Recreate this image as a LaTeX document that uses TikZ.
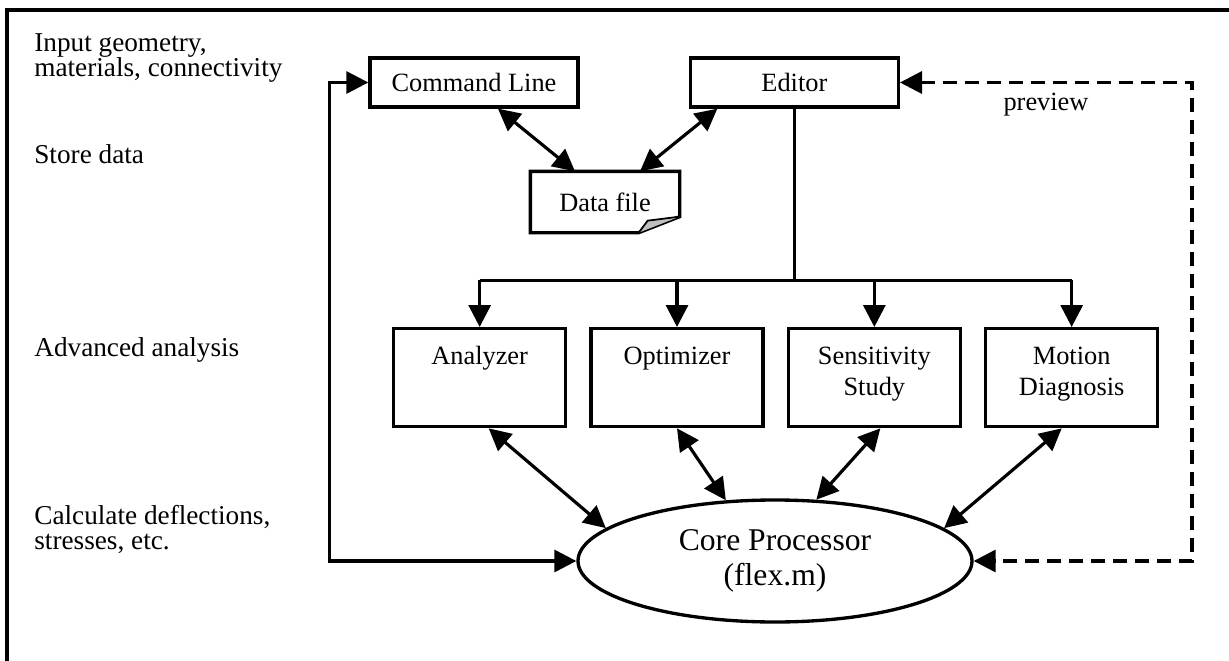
\documentclass[tikz,border=0pt]{standalone}
\usepackage{fontspec}
\setmainfont{Liberation Serif}
\usetikzlibrary{positioning}
\usetikzlibrary{arrows.meta}
\usetikzlibrary{shapes.geometric}

\newcommand{\modtext}[1]{\parbox[c][1.96cm][t]{3.44cm}{\centering\fontsize{15}{17.6}\selectfont\rule{0pt}{0.72cm}#1}}

\begin{document}
\begin{tikzpicture}[
blocknode/.style={rectangle, draw, line width=1.9pt, inner sep=0pt, minimum width=4.16cm, minimum height=0.98cm, font=\fontsize{15}{18}\selectfont},
modnode/.style={rectangle, draw, line width=1.9pt, inner sep=0pt},
corenode/.style={ellipse, draw, line width=1.9pt, inner sep=0pt, minimum width=7.88cm, minimum height=2.44cm, align=center, font=\fontsize{18}{20}\selectfont},
sidelabel/.style={inner sep=0pt, align=left, font=\fontsize{15.5}{14.2}\selectfont},
edge/.style={->, >={Triangle[length=0.44cm, width=0.44cm]}, line width=1.8pt},
dashededge/.style={edge, dash pattern=on 0.28cm off 0.16cm}
]
\useasboundingbox (0,0) rectangle (24.58,-13.22);

%Frame
\draw[line width=2pt] (24.58,-0.2) -- (0.14,-0.2) -- (0.14,-13.22);

%Side labels
\node[sidelabel, anchor=north west] (lbin)    at (0.68,-0.66)  {Input geometry,\\materials, connectivity};
\node[sidelabel, anchor=base west]  (lbstore) at (0.68,-3.26)  {Store data};
\node[sidelabel, anchor=base west]  (lbadv)   at (0.68,-7.12)  {Advanced analysis};
\node[sidelabel, anchor=north west] (lbcalc)  at (0.68,-10.10) {Calculate deflections,\\stresses, etc.};

%Nodes
\node[blocknode]                    (cmd)  at (9.48,-1.65)      {Command Line};
\node[blocknode]                    (ed)   [right=2.18cm of cmd] {Editor};
\node[blocknode, draw=none, minimum width=2.92cm, minimum height=1.16cm] (data) at (12.10,-4.04) {Data file};

\node[modnode, anchor=north west]   (ana)  at (7.84,-6.54)      {\modtext{Analyzer}};
\node[modnode]                      (opt)  [right=0.44cm of ana] {\modtext{Optimizer}};
\node[modnode]                      (sen)  [right=0.44cm of opt] {\modtext{Sensitivity\\Study}};
\node[modnode]                      (mot)  [right=0.44cm of sen] {\modtext{Motion\\Diagnosis}};

\node[corenode]                     (core) at (15.50,-11.22)    {Core Processor\\(flex.m)};

% data file outline with folded corner
\draw[line width=1.9pt] (data.north west) -- (data.north east) -- ([yshift=0.32cm]data.south east)
  -- ([xshift=-0.82cm]data.south east) -- (data.south west) -- cycle;
\filldraw[fill=gray!50, line width=1pt] ([xshift=-0.82cm]data.south east) -- ([xshift=-0.64cm,yshift=0.24cm]data.south east) -- ([yshift=0.32cm]data.south east);

%Lines
\draw[edge, <->] ([xshift=0.48cm]cmd.south) -- ([xshift=-0.60cm]data.north);
\draw[edge, <->] ([xshift=-1.54cm]ed.south) -- ([xshift=0.70cm]data.north);

\coordinate (bus) at ([yshift=-3.43cm]ed.south);
\draw[line width=1.8pt] (ed.south) -- (bus);
\draw[line width=1.8pt] (ana.north |- bus) -- (mot.north |- bus);
\foreach \m in {ana,opt,sen,mot}
  \draw[edge] (\m.north |- bus) -- (\m.north);

\draw[edge, <->] ([xshift=0.18cm]ana.south) -- (core.169);
\draw[edge, <->] (opt.south) -- (core.129);
\draw[edge, <->] ([xshift=0.12cm]sen.south) -- (core.56);
\draw[edge, <->] ([xshift=-0.20cm]mot.south) -- (core.11);

% feedback loops
\coordinate (lft) at ([xshift=-0.78cm]cmd.west);
\draw[edge, <->] (cmd.west) -- (lft) -- (lft |- core.west) -- (core.west);

\coordinate (rgt) at ([xshift=5.84cm]ed.east);
\draw[dashededge, <->] (ed.east) -- (rgt) node[midway, below=5pt, inner sep=0pt, font=\fontsize{15}{18}\selectfont] {preview}
  -- (rgt |- core.east) -- (core.east);

\end{tikzpicture}
\end{document}
